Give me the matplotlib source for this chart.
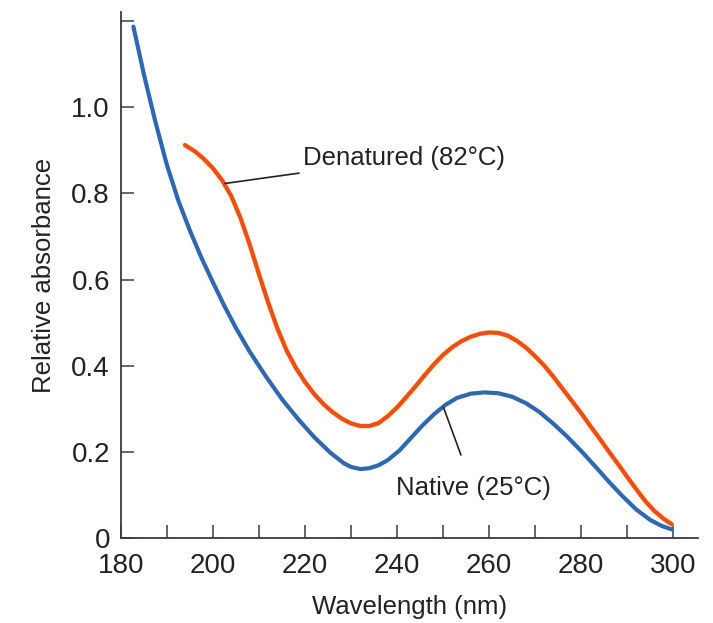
import matplotlib
matplotlib.use("Agg")
import matplotlib.pyplot as plt

# values
native_nm = [182.7, 185.0, 187.5, 190.0, 192.5, 195.0, 197.5, 200.0, 202.5, 205.0,
             208.0, 211.5, 215.0, 218.5, 222.0, 225.5, 228.5, 230.0, 232.0, 234.0,
             236.0, 238.0, 240.5, 243.0, 245.5, 248.0, 250.5, 253.0, 256.0, 259.0,
             262.0, 265.0, 268.0, 271.0, 274.0, 277.0, 280.0, 283.0, 286.0, 289.0,
             292.0, 295.0, 297.5, 299.7]
native_abs = [1.187, 1.075, 0.965, 0.865, 0.782, 0.713, 0.650, 0.593, 0.538, 0.487,
              0.432, 0.375, 0.322, 0.276, 0.234, 0.198, 0.173, 0.165, 0.160, 0.162,
              0.169, 0.181, 0.203, 0.232, 0.261, 0.287, 0.309, 0.325, 0.335, 0.338,
              0.336, 0.328, 0.313, 0.292, 0.265, 0.235, 0.202, 0.167, 0.131, 0.097,
              0.066, 0.042, 0.028, 0.020]

denat_nm = [193.9, 196, 198, 200, 202, 204, 206, 208, 210, 212, 214, 216, 218, 220,
            222, 224, 226, 228, 230, 232, 234, 236, 238, 240, 242, 244, 246, 248,
            250, 252, 254, 256, 258, 260, 262, 264, 266, 268, 270, 272, 274, 276,
            278, 280, 282, 284, 286, 288, 290, 292, 294, 296, 298, 299.7]
denat_abs = [0.912, 0.898, 0.880, 0.858, 0.830, 0.793, 0.742, 0.680, 0.612, 0.546,
             0.486, 0.435, 0.395, 0.362, 0.334, 0.311, 0.292, 0.277, 0.266, 0.260,
             0.260, 0.267, 0.283, 0.303, 0.327, 0.352, 0.378, 0.403, 0.425, 0.443,
             0.457, 0.467, 0.474, 0.477, 0.476, 0.470, 0.458, 0.442, 0.422, 0.400,
             0.374, 0.346, 0.318, 0.290, 0.260, 0.231, 0.201, 0.172, 0.142, 0.113,
             0.085, 0.062, 0.044, 0.032]

x_ticks = list(range(180, 301, 10))
x_labels = ["180", "", "200", "", "220", "", "240", "", "260", "", "280", "", "300"]
y_ticks = [0, 0.2, 0.4, 0.6, 0.8, 1.0, 1.2]
y_labels = ["0", "0.2", "0.4", "0.6", "0.8", "1.0", ""]

plt.rcParams['font.family'] = ['Liberation Sans', 'DejaVu Sans']

fig = plt.figure(figsize=(7.13, 6.23), dpi=100)
ax = fig.add_axes([121 / 713, 85 / 623, (698 - 121) / 713, (611 - 85) / 623])

blue = '#2f68b0'
red = '#ef4b1f'

ax.plot(native_nm, native_abs, color=blue, lw=3.0, solid_capstyle='round', solid_joinstyle='round')
ax.plot(denat_nm, denat_abs, color='#f7b733', lw=3.4, solid_capstyle='round', zorder=2)
ax.plot(denat_nm, denat_abs, color=red, lw=2.8, solid_capstyle='round', solid_joinstyle='round', zorder=3)

ax.set_xlim(180, 305.4)
ax.set_ylim(0, 1.221)

for s in ['top', 'right']:
    ax.spines[s].set_visible(False)
for s in ['left', 'bottom']:
    ax.spines[s].set_color('#3a3a45')
    ax.spines[s].set_linewidth(1.3)

ax.set_xticks(x_ticks)
ax.set_xticklabels(x_labels)
ax.set_yticks(y_ticks)
ax.set_yticklabels(y_labels)
ax.tick_params(direction='in', length=9.5, width=1.1, color='#3a3a45', labelsize=20,
               labelcolor='#222222')
ax.tick_params(axis='x', pad=11)
ax.tick_params(axis='y', pad=8)

ax.set_xlabel('Wavelength (nm)', fontsize=18.5, color='#222222', labelpad=11)
ax.set_ylabel('Relative absorbance', fontsize=18.5, color='#222222', labelpad=11)

# callouts
ax.annotate('Denatured (82°C)', xy=(202.6, 0.823), xytext=(219.6, 0.881),
            fontsize=18.5, color='#222222', va='center', ha='left',
            arrowprops=dict(arrowstyle='-', color='#222222', lw=1.2, shrinkA=1, shrinkB=0))
ax.annotate('Native (25°C)', xy=(250.1, 0.303), xytext=(256.5, 0.116),
            fontsize=18.5, color='#222222', va='center', ha='center',
            arrowprops=dict(arrowstyle='-', color='#222222', lw=1.2, shrinkA=14, shrinkB=0))

fig.savefig('out.png', dpi=100)
